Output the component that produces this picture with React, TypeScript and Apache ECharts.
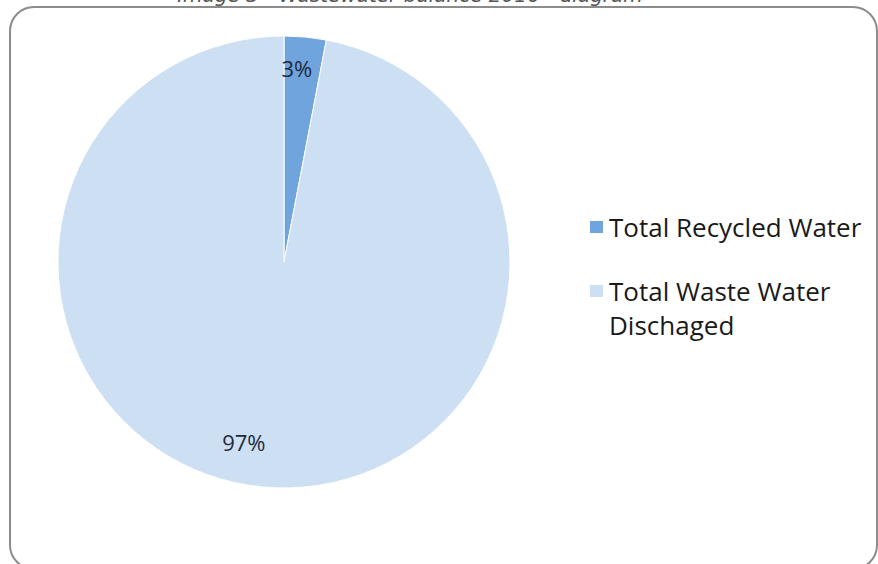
import React, { useEffect, useRef } from "react";
import * as echarts from "echarts";

const categories = ["Total Recycled Water", "Total Waste Water Dischaged"];
const values = [3, 97];
const colors = ["#6fa5dc", "#cddff2"];
const caption = "Image 3 - Wastewater balance 2016 - diagram";

const W = 878;
const H = 564;
const CX = 284;
const CY = 262;
const R = 226;
// label placement (angle clockwise from 12 o'clock, radius fraction)
const labelPolar = [
  { deg: 3.8, frac: 0.86 },
  { deg: 192.6, frac: 0.815 },
];

export default function App() {
  const ref = useRef<HTMLDivElement>(null);
  useEffect(() => {
    if (!ref.current) return;
    const chart = echarts.init(ref.current, null, { renderer: "svg" });
    const font = "Open Sans";
    const legendText = { fontFamily: font, fontSize: 26, lineHeight: 34, color: "#1a1a1a" };
    chart.setOption({
      animation: false,
      backgroundColor: "#ffffff",
      graphic: [
        {
          type: "rect",
          shape: { x: 10, y: 7, width: 867, height: 562, r: 24 },
          style: { fill: "#ffffff", stroke: "#8c8c8c", lineWidth: 2 },
          z: -10,
        },
        {
          type: "text",
          x: 410,
          y: 5,
          style: {
            text: caption,
            fontFamily: "DejaVu Sans",
            fontStyle: "italic",
            fontSize: 20,
            fill: "#555555",
            align: "center",
            verticalAlign: "bottom",
          },
        },
      ],
      legend: [
        {
          data: [categories[0]],
          orient: "vertical",
          left: 588,
          top: 210,
          padding: 0,
          icon: "rect",
          itemWidth: 15,
          itemHeight: 14,
          itemGap: 0,
          selectedMode: false,
          textStyle: legendText,
        },
        {
          data: [categories[1]],
          orient: "vertical",
          left: 588,
          top: 240,
          padding: 0,
          icon: "rect",
          itemWidth: 15,
          itemHeight: 14,
          itemGap: 0,
          selectedMode: false,
          formatter: () => "\nTotal Waste Water\nDischaged",
          textStyle: legendText,
        },
      ],
      series: [
        {
          type: "pie",
          center: [CX, CY],
          radius: R,
          startAngle: 90,
          clockwise: true,
          data: categories.map((c, i) => ({ name: c, value: values[i], itemStyle: { color: colors[i] } })),
          itemStyle: { borderColor: "#ffffff", borderWidth: 1 },
          label: {
            position: "inside",
            formatter: "{c}%",
            fontFamily: font,
            fontSize: 22,
            color: "#1f2a3c",
          },
          labelLine: { show: false },
          labelLayout: (p: any) => {
            const lp = labelPolar[p.dataIndex];
            const a = (lp.deg * Math.PI) / 180;
            return {
              x: CX + Math.sin(a) * R * lp.frac,
              y: CY - Math.cos(a) * R * lp.frac,
              align: "center",
              verticalAlign: "middle",
            };
          },
          emphasis: { disabled: true },
        },
      ],
    });
    return () => chart.dispose();
  }, []);
  return (
    <div
      ref={ref}
      style={{ position: "absolute", left: 0, top: 0, width: W, height: H }}
    />
  );
}
